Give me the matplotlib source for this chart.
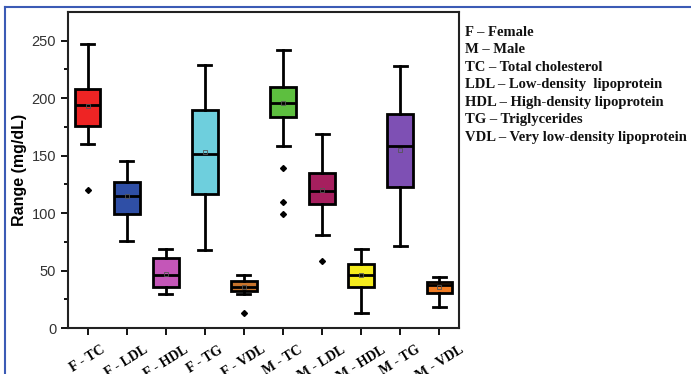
import matplotlib
matplotlib.use("Agg")
import matplotlib.pyplot as plt
from matplotlib.lines import Line2D
import numpy as np

categories = ["F - TC", "F - LDL", "F - HDL", "F - TG", "F - VDL",
              "M - TC", "M - LDL", "M - HDL", "M - TG", "M - VDL"]
whislo = [160, 76, 30, 68, 30, 158, 80.5, 13, 71.5, 18.6]
q1     = [176, 99.5, 36, 117, 32.5, 183.7, 107.6, 36, 122.4, 30.2]
med    = [194, 115, 46.5, 151.5, 36, 195.6, 119, 46.5, 158.4, 37.5]
q3     = [208, 127, 61, 190, 40.5, 210, 135, 55.5, 186.6, 40.4]
whishi = [247, 145, 69, 228.5, 46, 241.6, 168.6, 68.6, 228, 44.8]
means  = [193, 115, 47, 153, 36, 196, 120, 46.5, 154.7, 36]
fliers = [[120], [], [], [], [13.4], [139.5, 109.6, 99.4], [58.4], [], [], []]
colors = ["#ee2424", "#2f4fa6", "#c456b8", "#6ecfdd", "#c8742c",
          "#5dbf3f", "#a61f5e", "#f5ec1e", "#7e50b4", "#f07b22"]

legend_lines = ["F – Female", "M – Male", "TC – Total cholesterol",
                "LDL – Low-density  lipoprotein", "HDL – High-density lipoprotein",
                "TG – Triglycerides", "VDL – Very low-density lipoprotein"]

fig = plt.figure(figsize=(6.91, 3.74), dpi=100)
ax = fig.add_axes([68/691, 1-328/374, (459-68)/691, (328-12)/374])

stats = []
for i in range(len(categories)):
    stats.append(dict(label=categories[i], whislo=whislo[i], q1=q1[i], med=med[i],
                      q3=q3[i], whishi=whishi[i], mean=means[i], fliers=fliers[i]))

lw = 2.0
bp = ax.bxp(stats, positions=np.arange(1, 11), widths=0.66, patch_artist=True,
            showmeans=True, showfliers=True, capwidths=0.33,
            boxprops=dict(linewidth=lw, edgecolor="black"),
            medianprops=dict(color="black", linewidth=lw),
            whiskerprops=dict(color="black", linewidth=lw),
            capprops=dict(color="black", linewidth=lw),
            meanprops=dict(marker="s", markersize=3.5, markerfacecolor="none",
                           markeredgecolor="#555555", markeredgewidth=0.6),
            flierprops=dict(marker="D", markersize=3, markerfacecolor="black",
                            markeredgecolor="black"))
for patch, c in zip(bp["boxes"], colors):
    patch.set_facecolor(c)

ax.set_xlim(0.5, 10.5)
ax.set_ylim(0, 275)
ax.set_yticks([0, 50, 100, 150, 200, 250])
ax.set_yticks([25, 75, 125, 175, 225], minor=True)
ax.tick_params(axis="y", which="major", length=5, width=1.3, labelsize=10.5,
               labelcolor="#333333", labelfontfamily="Liberation Sans")
ax.tick_params(axis="y", which="minor", length=3, width=1.3)
ax.tick_params(axis="x", length=5, width=1.3, pad=6)
ax.set_xticks(np.arange(1, 11))
ax.set_xticklabels(categories, rotation=32, ha="center",
                   fontfamily="Liberation Serif", fontweight="bold", fontsize=10)
for s in ax.spines.values():
    s.set_linewidth(1.5)
    s.set_color("#222222")
ax.set_ylabel("Range (mg/dL)", fontsize=11.5, fontweight="bold",
              fontfamily="Liberation Sans", labelpad=3)

y0 = 1 - 32/374
for k, t in enumerate(legend_lines):
    fig.text(465/691, y0 - k*17.6/374, t, fontfamily="Liberation Serif",
             fontweight="bold", fontsize=10.5, va="center", ha="left", color="#111111")

# blue frame lines
fig.add_artist(Line2D([5/691, 1], [1-7/374, 1-7/374], transform=fig.transFigure,
                      color="#3b5bb5", linewidth=1.5))
fig.add_artist(Line2D([5/691, 5/691], [0, 1-7/374], transform=fig.transFigure,
                      color="#3b5bb5", linewidth=1.5))

fig.savefig("out.png", dpi=100)
